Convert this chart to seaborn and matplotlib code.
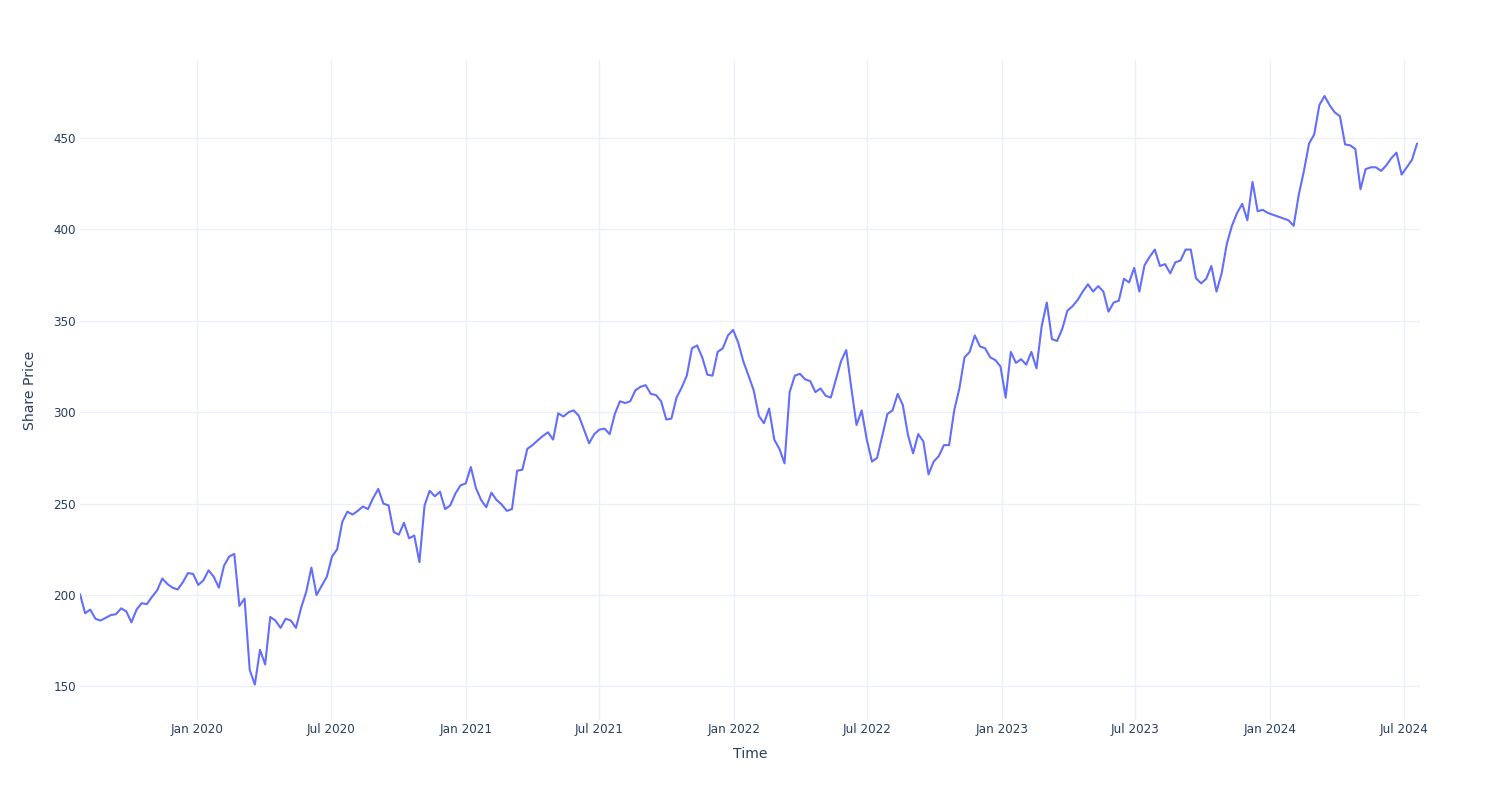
import numpy as np
import pandas as pd
import matplotlib
matplotlib.use("Agg")
import matplotlib.pyplot as plt
import matplotlib.dates as mdates
import seaborn as sns

start_date = "2019-07-26"
share_price = [
    200.5, 190, 192, 187, 186, 187.5, 189, 189.5, 192.7, 191,
    185, 192, 195.5, 195, 199, 202.5, 209, 206, 204, 203,
    207, 212, 211.5, 205.5, 208, 213.5, 210, 204, 216, 221,
    222.5, 194, 198, 159, 151, 170, 162, 188, 186, 182,
    187, 186, 182, 193, 201.8, 215, 200, 205, 210, 221,
    225, 240, 245.6, 244, 246, 248.4, 247, 253, 258, 250,
    249, 234.5, 233, 239.5, 231, 232.5, 218, 249, 257, 254,
    256.5, 247, 249, 255.5, 260, 261, 270, 258.4, 252, 248,
    256, 252, 249.5, 246, 247, 268, 268.5, 280, 282, 284.6,
    287, 289, 285, 299.4, 297.6, 300, 301, 298, 290.5, 283,
    288, 290.5, 291, 288, 299, 306, 305, 306, 312, 313.9,
    314.8, 310, 309.4, 306, 296, 296.5, 308, 313.5, 320, 335,
    336.5, 330, 320.5, 320, 333, 335, 342, 345, 338, 327.7,
    320, 312, 298, 294, 302, 285, 280, 272, 311, 320,
    321, 318, 317, 311, 313, 309, 308, 318, 328, 334,
    313, 293, 301, 285, 273, 275, 287, 299, 301, 310,
    304, 287.6, 277.5, 288, 284, 266, 273, 276, 282, 282,
    301, 313, 330, 333, 342, 336, 335, 330, 328.5, 325,
    308, 333, 327, 329, 326, 333, 324, 347, 360, 340,
    339, 345.5, 355.5, 358, 361.4, 366, 370, 366, 369, 366,
    355, 360, 361, 373, 371, 379, 366, 380.4, 385, 389,
    380, 381, 376, 382, 383, 389, 389, 373.3, 370.5, 373,
    380, 366, 376, 392, 402, 409, 414, 405, 426, 410,
    410.7, 409, 408, 407, 406, 405, 402, 419, 432, 447,
    452, 468, 473, 468, 464, 462, 446.5, 446, 444, 422,
    433, 434, 434, 432, 435, 439, 442, 430, 434, 438,
    447,
]
tick_dates = ["2020-01-01", "2020-07-01", "2021-01-01", "2021-07-01",
              "2022-01-01", "2022-07-01", "2023-01-01", "2023-07-01",
              "2024-01-01", "2024-07-01"]
y_ticks = [150, 200, 250, 300, 350, 400, 450]

dates = pd.date_range(start_date, periods=len(share_price), freq="7D")
df = pd.DataFrame({"Time": dates, "Share Price": share_price})

sns.set_style("white")
plt.rcParams["font.family"] = ["DejaVu Sans"]

text_color = "#2a3f5f"
grid_color = "#EBF0F8"

fig = plt.figure(figsize=(15, 8), dpi=100)
ax = fig.add_axes([80 / 1500, 80 / 800, 1340 / 1500, 660 / 800])

sns.lineplot(data=df, x="Time", y="Share Price", ax=ax, color="#636EFA",
             linewidth=1.5, zorder=3)

ax.set_xlim(dates[0], pd.Timestamp("2024-07-23"))
ax.set_ylim(131.6, 492.7)
ax.set_yticks(y_ticks)
ax.set_xticks(pd.to_datetime(tick_dates))
ax.xaxis.set_major_formatter(mdates.DateFormatter("%b %Y"))

for s in ax.spines.values():
    s.set_visible(False)
ax.grid(True, color=grid_color, linewidth=1, zorder=0)
ax.set_axisbelow(True)
ax.tick_params(axis="both", length=0, labelsize=8.64, labelcolor=text_color)
ax.tick_params(axis="y", pad=3)
ax.tick_params(axis="x", pad=2)

ax.set_xlabel("Time", fontsize=10.08, color=text_color, labelpad=8)
ax.set_ylabel("Share Price", fontsize=10.08, color=text_color, labelpad=12)

fig.savefig("out.png", dpi=100, facecolor="white")
